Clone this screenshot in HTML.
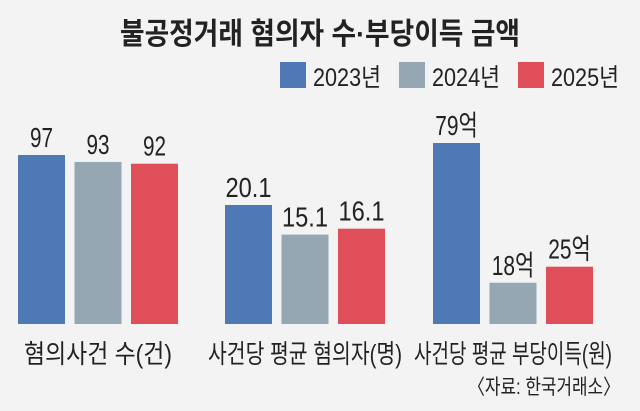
<!DOCTYPE html>
<html><head><meta charset="utf-8"><style>
html,body{margin:0;padding:0;background:#f3f3f3;}
svg{display:block;font-family:"Liberation Sans","Noto Sans CJK KR",sans-serif;}
</style></head><body>
<svg id="chart" width="640" height="411" viewBox="0 0 640 411">
<rect width="640" height="411" fill="#f3f3f3"/>
<text x="320" y="44" text-anchor="middle" font-size="30" font-weight="bold" fill="#222" textLength="400" lengthAdjust="spacingAndGlyphs">불공정거래 혐의자 수·부당이득 금액</text>
<g id="legend"></g>
<g id="bars"></g>
<text x="620" y="394" text-anchor="end" font-size="21" fill="#222" textLength="152" lengthAdjust="spacingAndGlyphs">〈자료: 한국거래소〉</text>
</svg>
<script>
const years = ["2023년","2024년","2025년"];
const colors = ["#4f79b4","#95a7b3","#e04e5a"];
const categories = ["혐의사건 수(건)","사건당 평균 혐의자(명)","사건당 평균 부당이득(원)"];
const series2023 = [97, 20.1, 79];
const series2024 = [93, 15.1, 18];
const series2025 = [92, 16.1, 25];
const valueLabels2023 = ["97","20.1","79억"];
const valueLabels2024 = ["93","15.1","18억"];
const valueLabels2025 = ["92","16.1","25억"];
const groupScaleMax = [97, 20.1, 79];

const NS="http://www.w3.org/2000/svg";
const barsG=document.getElementById('bars');
const legendG=document.getElementById('legend');
const baseY=324;
const groupX=[18,225,433];
const barW=47, step=56.5;
const maxH=[169,119,181];
function yScale(g,v){return v/groupScaleMax[g]*maxH[g];}
function mk(tag,attrs,parent){const e=document.createElementNS(NS,tag);for(const k in attrs)e.setAttribute(k,attrs[k]);parent.appendChild(e);return e;}

years.forEach((y,i)=>{
  const lx=280+i*119;
  const r=mk('rect',{x:lx,y:62,width:26,height:26,fill:colors[i]},legendG);
  
  
  const t=mk('text',{x:lx+33,y:86,'font-size':25,fill:'#222',textLength:68,lengthAdjust:'spacingAndGlyphs'},legendG);
  t.textContent=y;
  
  
});

const allSeries=[series2023,series2024,series2025];
const allLabels=[valueLabels2023,valueLabels2024,valueLabels2025];
categories.forEach((c,g)=>{
  allSeries.forEach((s,i)=>{
    const h=yScale(g,s[g]);
    const x=groupX[g]+i*step;
    const r=mk('rect',{x:x,y:baseY-h,width:barW,height:h,fill:colors[i]},barsG);
    
    
    const lab=allLabels[i][g];
    const t=mk('text',{x:x+barW/2,y:baseY-h-8,'text-anchor':'middle','font-size':28,fill:'#222',textLength:lab.length*11.5+(lab.indexOf('억')>=0?8:0),lengthAdjust:'spacingAndGlyphs'},barsG);
    t.textContent=lab;
    
    
  });
  const cx=groupX[g]+step+barW/2;
  const tw=[148,194,198][g];
  const t=mk('text',{x:cx,y:363,'text-anchor':'middle','font-size':26,fill:'#222',textLength:tw,lengthAdjust:'spacingAndGlyphs'},barsG);
  t.textContent=c;
  
  
});
</script>
</body></html>
